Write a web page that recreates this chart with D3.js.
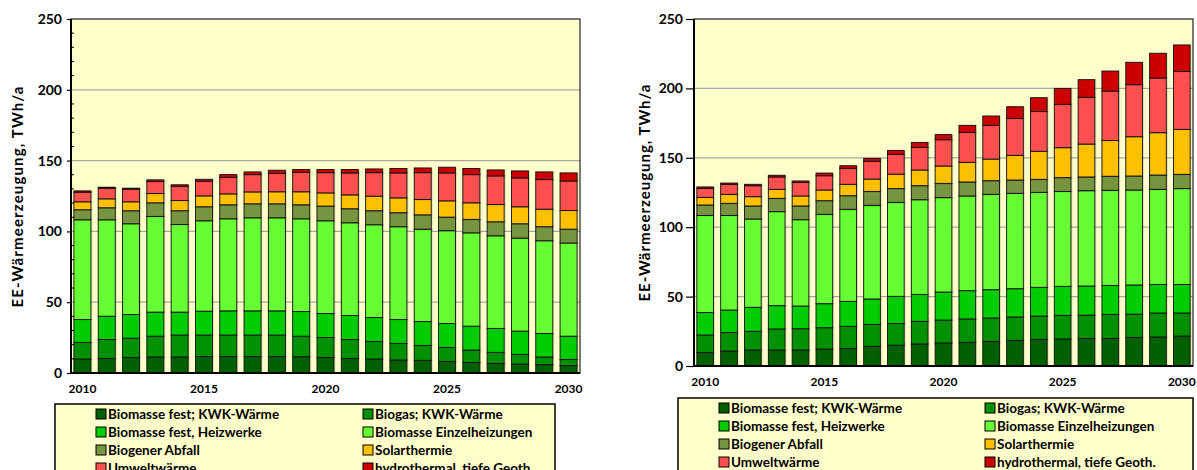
<!DOCTYPE html>
<html>
<head>
<meta charset="utf-8">
<script src="https://cdn.jsdelivr.net/npm/d3@7"></script>
<style>
  html,body{margin:0;padding:0;background:#fff;}
  svg{display:block;}
  text{font-family:Lato,"Open Sans",sans-serif;font-weight:bold;fill:#000;}
</style>
</head>
<body>
<svg id="chart" width="1197" height="470"></svg>
<script>
// ---------- data ----------
const years = d3.range(2010, 2031);
const xTickYears = [2010, 2015, 2020, 2025, 2030];
const yTicks = [0, 50, 100, 150, 200, 250];
const yTitle = "EE-Wärmeerzeugung, TWh/a";

const seriesKeys = ["kwk", "biogas", "heizwerke", "einzel", "abfall", "solar", "umwelt", "geoth"];
const seriesColors = ["#006000", "#009000", "#00CC00", "#66FF33", "#779440", "#FFC000", "#FF5050", "#CC0000"];
const leftLegendNames = ["Biomasse fest; KWK-Wärme", "Biogas; KWK-Wärme", "Biomasse fest, Heizwerke", "Biomasse Einzelheizungen",
  "Biogener Abfall", "Solarthermie", "Umweltwärme", "hydrothermal, tiefe Geoth"];
const rightLegendNames = ["Biomasse fest; KWK-Wärme", "Biogas; KWK-Wärme", "Biomasse fest, Heizwerke", "Biomasse Einzelheizungen",
  "Biogener Abfall", "Solarthermie", "Umweltwärme", "hydrothermal, tiefe Geoth."];

// left chart (TWh/a per source)
const leftKwk       = [9.9, 10.3, 11.0, 11.3, 11.3, 11.7, 11.7, 11.7, 11.7, 11.5, 11.0, 10.3, 9.9, 9.2, 9.0, 8.2, 7.5, 6.8, 6.3, 5.9, 5.2];
const leftBiogas    = [11.7, 13.4, 13.6, 14.7, 15.5, 15.1, 15.1, 15.1, 15.1, 14.5, 14.1, 13.4, 12.4, 11.7, 10.5, 9.9, 8.7, 7.8, 6.9, 5.4, 4.4];
const leftHeizwerke = [16.2, 16.4, 16.7, 17.0, 16.2, 16.9, 17.1, 17.1, 17.1, 17.4, 16.9, 16.9, 16.9, 16.9, 16.9, 16.9, 16.9, 16.9, 16.4, 16.6, 16.4];
const leftEinzel    = [70.4, 68.1, 64.1, 67.6, 61.9, 63.8, 65.0, 65.7, 65.7, 65.5, 65.5, 65.5, 65.5, 65.5, 65.2, 65.5, 65.9, 65.4, 65.7, 65.5, 65.8];
const leftAbfall    = [7.1, 8.5, 9.2, 9.6, 9.7, 9.9, 9.9, 9.9, 9.9, 9.9, 10.4, 9.9, 9.9, 9.9, 10.1, 9.6, 9.5, 9.9, 10.1, 9.9, 9.8];
const leftSolar     = [5.6, 6.3, 6.3, 6.6, 7.2, 7.7, 7.7, 8.4, 8.5, 9.2, 9.3, 9.8, 10.3, 10.5, 10.8, 11.5, 11.7, 12.2, 12.0, 12.4, 13.2];
const leftUmwelt    = [6.8, 7.5, 8.9, 8.4, 10.1, 10.3, 11.7, 12.2, 13.0, 13.8, 14.3, 15.5, 16.6, 17.6, 19.0, 19.7, 19.9, 20.2, 20.4, 20.9, 20.8];
const leftGeoth     = [0.9, 0.7, 0.7, 1.2, 1.0, 1.4, 1.9, 1.9, 2.2, 1.9, 2.2, 2.4, 2.6, 3.1, 3.3, 4.0, 4.3, 4.2, 4.9, 5.4, 5.7];

// right chart (TWh/a per source)
const rightKwk       = [9.8, 10.8, 11.5, 11.5, 11.5, 12.2, 12.7, 14.2, 15.0, 15.9, 16.6, 17.1, 17.8, 18.5, 19.2, 19.5, 19.9, 19.9, 20.6, 20.9, 21.6];
const rightBiogas    = [12.5, 13.4, 13.5, 15.2, 15.4, 15.4, 15.9, 15.8, 15.7, 16.3, 16.5, 16.8, 16.8, 16.8, 16.8, 17.0, 16.8, 17.3, 16.8, 17.3, 16.6];
const rightHeizwerke = [16.3, 16.1, 17.3, 16.8, 16.3, 17.3, 18.0, 18.3, 19.5, 19.4, 20.2, 20.4, 20.4, 20.4, 20.7, 20.9, 20.9, 20.9, 21.0, 20.6, 20.6];
const rightEinzel    = [69.9, 68.2, 63.6, 67.7, 62.2, 64.4, 66.3, 67.5, 67.7, 68.2, 68.0, 68.2, 68.7, 68.7, 68.4, 68.4, 68.7, 68.5, 68.4, 68.5, 69.0];
const rightAbfall    = [7.5, 8.7, 9.4, 9.6, 9.9, 9.8, 9.8, 10.0, 9.9, 10.1, 10.3, 10.1, 9.8, 9.6, 9.4, 9.9, 9.9, 10.1, 10.1, 10.3, 10.3];
const rightSolar     = [5.5, 6.5, 6.7, 6.5, 7.2, 7.7, 8.2, 8.9, 10.4, 11.3, 12.5, 14.2, 15.6, 17.8, 20.2, 21.6, 23.7, 25.8, 28.3, 30.5, 32.4];
const rightUmwelt    = [6.5, 7.2, 7.9, 8.9, 9.8, 10.3, 11.5, 12.8, 14.3, 16.3, 18.9, 21.5, 24.3, 26.6, 28.7, 31.2, 33.7, 35.6, 37.5, 39.4, 41.8];
const rightGeoth     = [1.0, 0.9, 1.0, 1.2, 1.0, 1.9, 1.9, 2.1, 2.8, 3.6, 3.7, 5.1, 6.7, 8.4, 9.9, 11.5, 12.7, 14.4, 16.1, 17.8, 19.0];

const leftSeries = [leftKwk, leftBiogas, leftHeizwerke, leftEinzel, leftAbfall, leftSolar, leftUmwelt, leftGeoth];
const rightSeries = [rightKwk, rightBiogas, rightHeizwerke, rightEinzel, rightAbfall, rightSolar, rightUmwelt, rightGeoth];

// ---------- drawing ----------
const svg = d3.select("#chart");

function table(seriesArrays) {
  return years.map((y, i) => {
    const row = { year: y };
    seriesKeys.forEach((k, j) => row[k] = seriesArrays[j][i]);
    return row;
  });
}

function drawChart(cfg) {
  const g = svg.append("g");
  const x = d3.scaleBand().domain(years).range([cfg.x0, cfg.x1]).paddingInner(0.3).paddingOuter(0.12);
  const y = d3.scaleLinear().domain([0, 250]).range([cfg.yb, cfg.yt]);

  // plot background
  g.append("rect").attr("x", cfg.x0).attr("y", cfg.yt).attr("width", cfg.x1 - cfg.x0).attr("height", cfg.yb - cfg.yt)
    .attr("fill", "#FFFFCC");

  // gridlines
  g.append("g").selectAll("line").data(yTicks.filter(t => t > 0 && t < 250)).join("line")
    .attr("x1", cfg.x0).attr("x2", cfg.x1).attr("y1", d => y(d)).attr("y2", d => y(d))
    .attr("stroke", "#a8a8a0").attr("stroke-width", 1.2);

  // stacked bars
  const stacked = d3.stack().keys(seriesKeys)(table(cfg.series));
  const layers = g.append("g").selectAll("g").data(stacked).join("g")
    .attr("fill", (d, i) => seriesColors[i]);
  // soft shadow
  layers.selectAll("rect.sh").data(d => d).join("rect").attr("class", "sh")
    .attr("x", d => x(d.data.year) - 0.5).attr("width", x.bandwidth() + 2)
    .attr("y", d => y(d[1]) - 0.5).attr("height", d => Math.max(0, y(d[0]) - y(d[1])) + 1.5)
    .attr("fill", "#000").attr("opacity", 0.12);
  layers.selectAll("rect.bar").data(d => d).join("rect").attr("class", "bar")
    .attr("x", d => x(d.data.year)).attr("width", x.bandwidth())
    .attr("y", d => y(d[1])).attr("height", d => Math.max(0, y(d[0]) - y(d[1])))
    .attr("stroke", "#111").attr("stroke-width", 0.9);

  // frame
  g.append("rect").attr("x", cfg.x0).attr("y", cfg.yt).attr("width", cfg.x1 - cfg.x0).attr("height", cfg.yb - cfg.yt)
    .attr("fill", "none").attr("stroke", "#333").attr("stroke-width", 1.3);
  g.append("line").attr("x1", cfg.x0).attr("x2", cfg.x0).attr("y1", cfg.yt).attr("y2", cfg.yb + 1)
    .attr("stroke", "#000").attr("stroke-width", 2);
  g.append("line").attr("x1", cfg.x0 - 1).attr("x2", cfg.x1).attr("y1", cfg.yb).attr("y2", cfg.yb)
    .attr("stroke", "#000").attr("stroke-width", 2);

  // y axis
  const yAxis = d3.axisLeft(y).tickValues(yTicks).tickSize(cfg.majorTick).tickPadding(cfg.tickPad);
  const ya = g.append("g").attr("transform", `translate(${cfg.x0},0)`).call(yAxis);
  ya.select(".domain").remove();
  ya.selectAll(".tick line").attr("stroke", "#000").attr("stroke-width", 1.2);
  ya.selectAll(".tick text").style("font-size", "14px").style("font-family", "Lato, sans-serif").style("font-weight", "bold").attr("fill", "#000");
  if (cfg.minor) {
    const minorTicks = d3.range(10, 250, 10).filter(v => v % 50 !== 0);
    g.append("g").selectAll("line").data(minorTicks).join("line")
      .attr("x1", cfg.x0).attr("x2", cfg.x0 + 3).attr("y1", d => y(d)).attr("y2", d => y(d))
      .attr("stroke", "#000").attr("stroke-width", 1);
  }

  // x axis labels
  const xAxis = d3.axisBottom(x).tickValues(xTickYears).tickSize(0).tickPadding(cfg.xPad);
  const xa = g.append("g").attr("transform", `translate(0,${cfg.yb})`).call(xAxis);
  xa.select(".domain").remove();
  xa.selectAll(".tick text").style("font-size", "12px").style("font-family", "Lato, sans-serif").style("font-weight", "bold").attr("fill", "#000");

  // y title
  g.append("text").attr("transform", `translate(${cfg.titleX},${cfg.titleY}) rotate(-90)`)
    .attr("text-anchor", "middle").attr("dy", "0.35em")
    .attr("textLength", cfg.titleLen).attr("lengthAdjust", "spacing")
    .style("font-size", "15px").text(yTitle);

  // legend
  const L = cfg.legend;
  const lg = g.append("g");
  lg.append("rect").attr("x", L.x).attr("y", L.y).attr("width", L.w).attr("height", 100)
    .attr("fill", "#FFFFCC").attr("stroke", "#000").attr("stroke-width", 1.5);
  const items = lg.selectAll("g").data(cfg.names).join("g")
    .attr("transform", (d, i) => `translate(${i % 2 === 0 ? L.c1 : L.c2},${L.r0 + Math.floor(i / 2) * 18})`);
  items.append("rect").attr("x", 0).attr("y", -5).attr("width", 10).attr("height", 10)
    .attr("fill", (d, i) => seriesColors[i]).attr("stroke", "#000").attr("stroke-width", 1);
  items.append("text").attr("x", 12).attr("y", 0).attr("dy", "0.36em")
    .style("font-size", "13.5px").text(d => d);
}

drawChart({
  x0: 71, x1: 580, yt: 19, yb: 373, series: leftSeries, names: leftLegendNames,
  majorTick: 4, tickPad: 5, minor: true, xPad: 11, titleX: 18, titleY: 197, titleLen: 221,
  legend: { x: 55, y: 404, w: 500, c1: 96, c2: 363, r0: 414 }
});
drawChart({
  x0: 694, x1: 1193, yt: 19, yb: 366, series: rightSeries, names: rightLegendNames,
  majorTick: 8, tickPad: 3, minor: false, xPad: 11, titleX: 645, titleY: 193, titleLen: 217,
  legend: { x: 678, y: 398, w: 515, c1: 719, c2: 985, r0: 408 }
});
</script>
</body>
</html>
